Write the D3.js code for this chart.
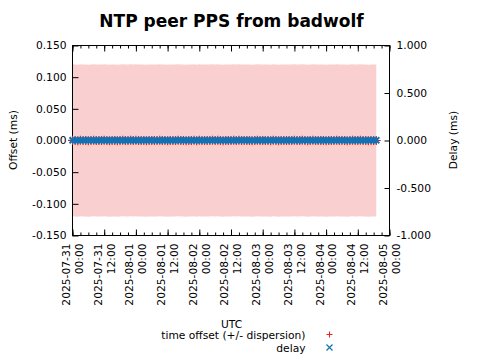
<!DOCTYPE html>
<html>
<head>
<meta charset="utf-8">
<script src="https://cdn.jsdelivr.net/npm/d3@7"></script>
<style>
body { margin: 0; background: #fff; }
text { font-family: "DejaVu Sans", sans-serif; }
</style>
</head>
<body>
<svg id="chart" width="480" height="360"></svg>
<script>
// hours after 2025-07-31 00:00 UTC
var hours = [0,1,2,3,4,5,6,7,8,9,10,11,12,13,14,15,16,17,18,19,
    20,21,22,23,24,25,26,27,28,29,30,31,32,33,34,35,36,37,38,39,
    40,41,42,43,44,45,46,47,48,49,50,51,52,53,54,55,56,57,58,59,
    60,61,62,63,64,65,66,67,68,69,70,71,72,73,74,75,76,77,78,79,
    80,81,82,83,84,85,86,87,88,89,90,91,92,93,94,95,96,97,98,99,
    100,101,102,103,104,105,106,107,108,109,110,111,112,113,114,115];

// offset (ms)
var offsets = [0.0002,0.0000,-0.0002,0.0003,0.0000,0.0001,-0.0003,0.0000,0.0002,0.0000,-0.0001,0.0001,0.0003,0.0000,-0.0002,0.0000,0.0001,-0.0003,0.0000,0.0002,
    0.0000,-0.0001,0.0002,0.0000,0.0003,-0.0001,0.0000,0.0001,-0.0002,0.0001,0.0000,0.0000,-0.0001,0.0003,0.0001,0.0000,-0.0002,0.0001,0.0000,-0.0001,
    0.0003,0.0000,0.0001,-0.0002,0.0000,0.0000,0.0002,-0.0003,0.0002,0.0000,-0.0001,0.0001,0.0000,0.0002,-0.0001,0.0003,0.0000,-0.0002,0.0001,0.0000,
    -0.0001,0.0002,0.0000,0.0003,-0.0001,0.0000,0.0001,0.0000,-0.0003,0.0001,0.0002,-0.0001,0.0000,0.0001,0.0000,-0.0002,0.0003,0.0000,-0.0002,0.0001,
    0.0000,0.0001,-0.0001,0.0000,0.0002,0.0000,-0.0001,0.0002,0.0000,-0.0003,0.0001,0.0002,0.0000,-0.0001,0.0000,0.0001,-0.0002,0.0000,0.0001,0.0000,
    0.0003,-0.0001,0.0000,0.0001,-0.0002,0.0000,0.0002,0.0000,-0.0001,0.0003,0.0000,0.0001,-0.0002,0.0000,0.0001,0.0000];

// dispersion (ms)
var dispersions = [0.120,0.120,0.120,0.120,0.120,0.120,0.120,0.120,0.120,0.120,0.120,0.120,0.120,0.120,0.120,0.120,0.120,0.120,0.120,0.120,
    0.120,0.120,0.120,0.120,0.120,0.120,0.120,0.120,0.120,0.120,0.120,0.120,0.120,0.120,0.120,0.120,0.120,0.120,0.120,0.120,
    0.120,0.120,0.120,0.120,0.120,0.120,0.120,0.120,0.120,0.120,0.120,0.120,0.120,0.120,0.120,0.120,0.120,0.120,0.120,0.120,
    0.120,0.120,0.120,0.120,0.120,0.120,0.120,0.120,0.120,0.120,0.120,0.120,0.120,0.120,0.120,0.120,0.120,0.120,0.120,0.120,
    0.120,0.120,0.120,0.120,0.120,0.120,0.120,0.120,0.120,0.120,0.120,0.120,0.120,0.120,0.120,0.120,0.120,0.120,0.120,0.120,
    0.120,0.120,0.120,0.120,0.120,0.120,0.120,0.120,0.120,0.120,0.120,0.120,0.120,0.120,0.120,0.120];

// delay (ms)
var delays = [0.002,0.003,0.002,0.001,0.002,0.004,0.002,0.003,0.002,0.001,0.003,0.002,0.002,0.003,0.001,0.002,0.004,0.002,0.003,0.002,
    0.001,0.002,0.003,0.002,0.002,0.001,0.003,0.002,0.004,0.002,0.003,0.002,0.001,0.002,0.003,0.002,0.002,0.003,0.001,0.002,
    0.002,0.004,0.002,0.003,0.002,0.001,0.003,0.002,0.002,0.003,0.001,0.002,0.004,0.002,0.003,0.002,0.001,0.002,0.003,0.002,
    0.002,0.001,0.003,0.002,0.004,0.002,0.003,0.002,0.001,0.002,0.003,0.002,0.002,0.003,0.001,0.002,0.004,0.002,0.003,0.002,
    0.001,0.002,0.003,0.002,0.002,0.001,0.003,0.002,0.004,0.002,0.003,0.002,0.001,0.002,0.003,0.002,0.002,0.003,0.001,0.002,
    0.002,0.004,0.002,0.003,0.002,0.001,0.003,0.002,0.002,0.003,0.001,0.002,0.004,0.002,0.003,0.002];

var offsetTicks = [-0.15, -0.1, -0.05, 0, 0.05, 0.1, 0.15];
var delayTicks = [-1, -0.5, 0, 0.5, 1];
var timeStart = "2025-07-31T00:00:00Z";
var timeEnd = "2025-08-05T00:00:00Z";

var svg = d3.select("#chart");
var plotL = 72.5, plotR = 389.5, plotT = 45.5, plotB = 235.5;
var red = "#e8211b", blue = "#1272b6", pink = "#f9d0cf";

var t0 = new Date(timeStart);
var data = hours.map(function (h, i) {
    return {
        t: new Date(t0.getTime() + h * 3600e3),
        off: offsets[i],
        disp: dispersions[i],
        delay: delays[i]
    };
});

var x = d3.scaleUtc().domain([t0, new Date(timeEnd)]).range([plotL, plotR]);
var y = d3.scaleLinear().domain([-0.15, 0.15]).range([plotB, plotT]);
var y2 = d3.scaleLinear().domain([-1, 1]).range([plotB, plotT]);

// dispersion band
var area = d3.area()
    .x(function (d) { return x(d.t); })
    .y0(function (d) { return y(d.off - d.disp); })
    .y1(function (d) { return y(d.off + d.disp); });
svg.append("path").datum(data).attr("d", area).attr("fill", pink);

// axes
var fmt = function (d) { return d.toFixed(3); };
var gl = svg.append("g").attr("transform", "translate(" + plotL + ",0)")
    .call(d3.axisLeft(y).tickValues(offsetTicks).tickSize(-6).tickPadding(6).tickFormat(fmt));
var gr = svg.append("g").attr("transform", "translate(" + plotR + ",0)")
    .call(d3.axisRight(y2).tickValues(delayTicks).tickSize(-5).tickPadding(7).tickFormat(fmt));
var gb = svg.append("g").attr("transform", "translate(0," + plotB + ")")
    .call(d3.axisBottom(x).ticks(d3.utcHour.every(12)).tickSize(-6).tickFormat(""));
var gbm = svg.append("g").attr("transform", "translate(0," + plotB + ")")
    .call(d3.axisBottom(x).ticks(d3.utcHour.every(3)).tickSize(-3).tickFormat(""));
var gt = svg.append("g").attr("transform", "translate(0," + plotT + ")")
    .call(d3.axisTop(x).ticks(d3.utcHour.every(12)).tickSize(-6).tickFormat(""));
var gtm = svg.append("g").attr("transform", "translate(0," + plotT + ")")
    .call(d3.axisTop(x).ticks(d3.utcHour.every(3)).tickSize(-3).tickFormat(""));

[gl, gr, gb, gbm, gt, gtm].forEach(function (g) {
    g.select(".domain").remove();
    g.selectAll("line").attr("stroke", "#000");
    g.selectAll("text").attr("font-size", "10.7px").attr("fill", "#000")
        .attr("font-family", "DejaVu Sans");
});

svg.append("rect")
    .attr("x", plotL).attr("y", plotT)
    .attr("width", plotR - plotL).attr("height", plotB - plotT)
    .attr("fill", "none").attr("stroke", "#000").attr("stroke-width", 1);

// rotated time labels
var dateFmt = d3.utcFormat("%Y-%m-%d"), hourFmt = d3.utcFormat("%H:%M");
x.ticks(d3.utcHour.every(12)).forEach(function (d) {
    var g = svg.append("g")
        .attr("transform", "translate(" + x(d) + ",243.5) rotate(-90)");
    g.append("text").attr("y", -2.6).attr("text-anchor", "end")
        .attr("font-size", "10.7px").text(dateFmt(d));
    g.append("text").attr("y", 10.4).attr("text-anchor", "end")
        .attr("font-size", "10.7px").text(hourFmt(d));
});

function plusPath(s) {
    return "M" + (-s) + ",0H" + s + "M0," + (-s) + "V" + s;
}
function crossPath(s) {
    return "M" + (-s) + "," + (-s) + "L" + s + "," + s + "M" + (-s) + "," + s + "L" + s + "," + (-s);
}

// offset markers (+)
svg.append("g").selectAll("path").data(data).enter().append("path")
    .attr("transform", function (d) { return "translate(" + x(d.t) + "," + y(d.off) + ")"; })
    .attr("d", plusPath(4.5))
    .attr("stroke", red).attr("stroke-width", 1.2).attr("fill", "none");

// delay markers (x)
svg.append("g").selectAll("path").data(data).enter().append("path")
    .attr("transform", function (d) { return "translate(" + x(d.t) + "," + y2(d.delay) + ")"; })
    .attr("d", crossPath(3))
    .attr("stroke", blue).attr("stroke-width", 2).attr("fill", "none");

// titles
svg.append("text").attr("x", 231.5).attr("y", 26.5).attr("text-anchor", "middle")
    .attr("font-size", "17px").attr("font-weight", "bold").text("NTP peer PPS from badwolf");

svg.append("text").attr("transform", "translate(17,140) rotate(-90)")
    .attr("text-anchor", "middle").attr("font-size", "10.7px").text("Offset (ms)");
svg.append("text").attr("transform", "translate(457,140) rotate(-90)")
    .attr("text-anchor", "middle").attr("font-size", "10.7px").text("Delay (ms)");

svg.append("text").attr("x", 231.5).attr("y", 327.5).attr("text-anchor", "middle")
    .attr("font-size", "10.7px").text("UTC");

// legend
svg.append("text").attr("x", 305.5).attr("y", 339).attr("text-anchor", "end")
    .attr("font-size", "10.7px").text("time offset (+/- dispersion)");
svg.append("path").attr("transform", "translate(329.5,334.5)")
    .attr("d", plusPath(3)).attr("stroke", red).attr("fill", "none");
svg.append("text").attr("x", 305.5).attr("y", 351.5).attr("text-anchor", "end")
    .attr("font-size", "10.7px").text("delay");
svg.append("path").attr("transform", "translate(329.5,347.5)")
    .attr("d", crossPath(3)).attr("stroke", blue).attr("stroke-width", 1.2).attr("fill", "none");
</script>
</body>
</html>
